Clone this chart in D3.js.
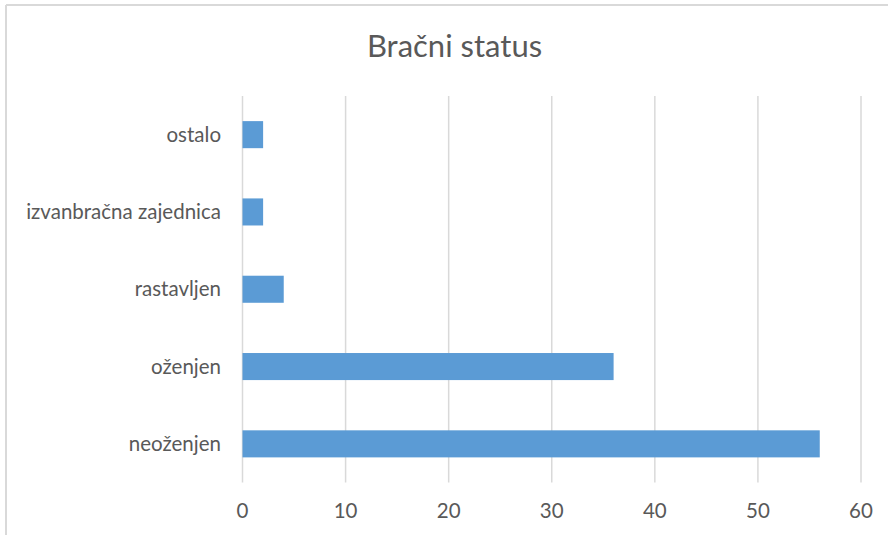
<!DOCTYPE html>
<html><head><meta charset="utf-8">
<script src="https://cdn.jsdelivr.net/npm/d3@7"></script>
<style>html,body{margin:0;padding:0;background:#fff;overflow:hidden}</style>
</head><body>
<script>
const categories = ["neoženjen", "oženjen", "rastavljen", "izvanbračna zajednica", "ostalo"];
const values = [56, 36, 4, 2, 2];
const tickValues = [0, 10, 20, 30, 40, 50, 60];
const title = "Bračni status";

const W = 888, H = 535;
const svg = d3.select("body").append("svg").attr("width", W).attr("height", H);
svg.append("rect").attr("width", W).attr("height", H).attr("fill", "#fff");
// frame (top and left visible)
svg.append("line").attr("x1", 6).attr("x2", W).attr("y1", 5).attr("y2", 5).attr("stroke", "#d9d9d9").attr("stroke-width", 2);
svg.append("line").attr("x1", 6).attr("x2", 6).attr("y1", 5).attr("y2", H).attr("stroke", "#d9d9d9").attr("stroke-width", 2);

const font = "Lato, 'Open Sans', sans-serif";
const x = d3.scaleLinear().domain([0, 60]).range([242.5, 861]);
const y = d3.scaleBand().domain(categories.slice().reverse()).range([96, 482.5]).paddingInner(0.65).paddingOuter(0.325);

svg.append("text").attr("x", 454.5).attr("y", 57).attr("text-anchor", "middle")
  .attr("font-family", font).attr("font-size", 31).attr("fill", "#595959").text(title);

// gridlines
svg.append("g").selectAll("line").data(tickValues).join("line")
  .attr("x1", d => x(d)).attr("x2", d => x(d)).attr("y1", 96).attr("y2", 482.5)
  .attr("stroke", "#d9d9d9").attr("stroke-width", 1.5);

// bars
svg.append("g").selectAll("rect").data(categories).join("rect")
  .attr("x", x(0)).attr("y", d => y(d))
  .attr("width", (d, i) => x(values[i]) - x(0)).attr("height", y.bandwidth())
  .attr("fill", "#5b9bd5");

// x tick labels
svg.append("g").selectAll("text").data(tickValues).join("text")
  .attr("x", d => x(d)).attr("y", 518).attr("text-anchor", "middle")
  .attr("font-family", font).attr("font-size", 20.5).attr("fill", "#595959").text(d => d);

// y labels
svg.append("g").selectAll("text").data(categories).join("text")
  .attr("x", 221).attr("y", d => y(d) + y.bandwidth() / 2).attr("dy", "0.35em")
  .attr("text-anchor", "end")
  .attr("font-family", font).attr("font-size", 20.5).attr("fill", "#595959").text(d => d);
</script>
</body></html>
